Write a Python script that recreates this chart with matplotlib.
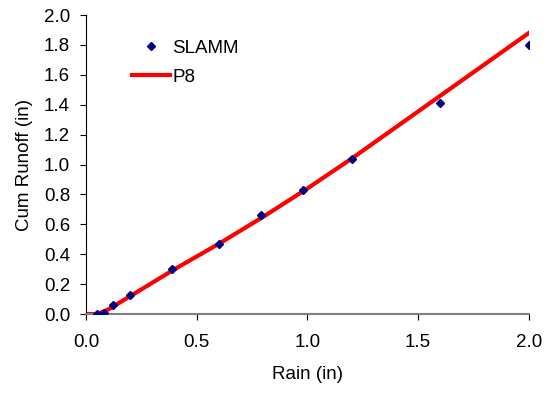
import matplotlib
matplotlib.use('Agg')
import matplotlib.pyplot as plt
from matplotlib.ticker import FormatStrFormatter

plt.rcParams['font.family'] = ['Liberation Sans', 'DejaVu Sans']

# SLAMM points
slamm_rain = [0.05, 0.08, 0.12, 0.20, 0.39, 0.60, 0.79, 0.98, 1.20, 1.60, 2.00]
slamm_runoff = [0.00, 0.01, 0.06, 0.13, 0.30, 0.47, 0.66, 0.83, 1.04, 1.41, 1.80]

# P8 line
p8_rain = [0.0, 0.05, 0.10, 0.20, 0.40, 0.60, 0.80, 1.00, 1.20, 1.60, 2.00]
p8_runoff = [0.0, 0.0, 0.03, 0.12, 0.30, 0.47, 0.65, 0.84, 1.04, 1.46, 1.88]

fs = 13.5

fig = plt.figure(figsize=(5.48, 3.96), dpi=100)
ax = fig.add_axes([0.157, 0.207, 0.808, 0.755])

ax.plot(p8_rain, p8_runoff, color='#ff0000', lw=3, label='P8', zorder=2)
ax.plot(slamm_rain, slamm_runoff, ls='none', marker='D', ms=4.5, color='#000080',
        label='SLAMM', zorder=3)

ax.set_xlim(0, 2.0)
ax.set_ylim(0, 2.0)
ax.set_xticks([0, 0.5, 1.0, 1.5, 2.0])
ax.set_yticks([i / 10 for i in range(0, 21, 2)])
ax.xaxis.set_major_formatter(FormatStrFormatter('%.1f'))
ax.yaxis.set_major_formatter(FormatStrFormatter('%.1f'))
ax.tick_params(axis='x', direction='out', length=4.5, labelsize=fs, pad=10)
ax.tick_params(axis='y', direction='out', length=4.5, labelsize=fs, pad=7)
ax.spines['top'].set_visible(False)
ax.spines['right'].set_visible(False)
ax.spines['bottom'].set_color('#808080')
ax.spines['bottom'].set_linewidth(1.5)
ax.set_xlabel('Rain (in)', fontsize=fs, labelpad=11)
ax.set_ylabel('Cum Runoff (in)', fontsize=fs, labelpad=8)

h, l = ax.get_legend_handles_labels()
ax.legend(h[::-1], l[::-1], loc='upper left', bbox_to_anchor=(0.104, 0.917),
          frameon=False, fontsize=fs, handlelength=2.0, handletextpad=0.15,
          labelspacing=0.62, borderpad=0, borderaxespad=0)

fig.savefig('out.png', dpi=100)
